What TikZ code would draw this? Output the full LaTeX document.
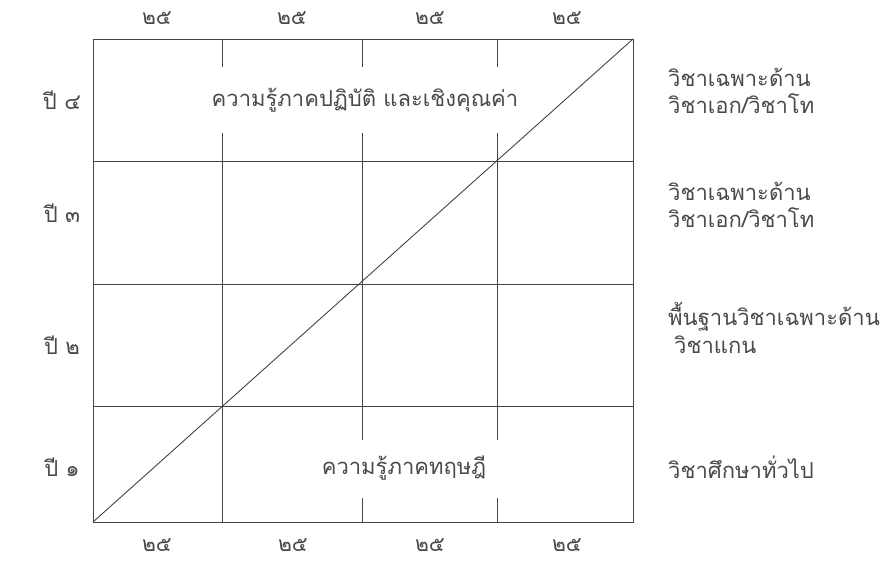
\documentclass[tikz,border=0pt]{standalone}
\usepackage{fontspec}
\newfontfamily\thaifont[Script=Thai]{Loma}
\definecolor{linec}{HTML}{444444}
\definecolor{textc}{HTML}{4A4A4A}
\tikzset{
  grid/.style={draw=linec, line width=0.9pt},
  lbl/.style={text=textc, font=\thaifont\fontsize{22}{26}\selectfont, inner sep=0pt},
  lbll/.style={lbl, anchor=west},
  numlbl/.style={lbl, font=\thaifont\fontsize{21}{24}\selectfont},
}
\begin{document}
\begin{tikzpicture}[x=1pt,y=-1pt]
\useasboundingbox (0,0) rectangle (891,562);
% corners
\coordinate (bl) at (93,522);
\coordinate (tr) at (633,39);
% frame
\draw[grid] (93,39) rectangle (633,522);
% horizontal lines
\draw[grid] (93,161) -- (633,161);
\draw[grid] (93,284) -- (633,284);
\draw[grid] (93,406) -- (633,406);
% verticals, middle rows
\draw[grid] (222,161) -- (222,522);
\draw[grid] (362,161) -- (362,406);
\draw[grid] (497,161) -- (497,406);
% top row broken verticals
\foreach \x in {222,362,497}{
  \draw[grid] (\x,39) -- (\x,67);
  \draw[grid] (\x,133) -- (\x,161);
}
% bottom row broken verticals
\foreach \x in {362,497}{
  \draw[grid] (\x,406) -- (\x,440);
  \draw[grid] (\x,498) -- (\x,522);
}
% diagonal
\draw[grid] (bl) -- (tr);
% inner labels
\node[lbl] (prac) at (365,100) {ความรู้ภาคปฏิบัติ และเชิงคุณค่า};
\node[lbl] (theo) at (404,468) {ความรู้ภาคทฤษฎี};
% top numbers
\foreach \x/\n in {157/t1,292/t2,430/t3,567/t4}{
  \node[numlbl] (\n) at (\x,18) {๒๕};
}
\foreach \x/\n in {157/b1,293/b2,430/b3,567/b4}{
  \node[numlbl] (\n) at (\x,545) {๒๕};
}
% left year labels
\node[lbl] (y4) at (62,100) {ปี ๔};
\node[lbl] (y3) at (62,213) {ปี ๓};
\node[lbl] (y2) at (62,345) {ปี ๒};
\node[lbl] (y1) at (62,467) {ปี ๑};
% right labels
\node[lbll] (r4a) at (668,77) {วิชาเฉพาะด้าน};
\node[lbll] (r4b) at (668,104) {วิชาเอก/วิชาโท};
\node[lbll] (r3a) at (668,191) {วิชาเฉพาะด้าน};
\node[lbll] (r3b) at (668,218) {วิชาเอก/วิชาโท};
\node[lbll] (r2a) at (668,317) {พื้นฐานวิชาเฉพาะด้าน};
\node[lbll] (r2b) at (674,345) {วิชาแกน};
\node[lbll] (r1) at (668,467) {วิชาศึกษาทั่วไป};
\end{tikzpicture}
\end{document}
